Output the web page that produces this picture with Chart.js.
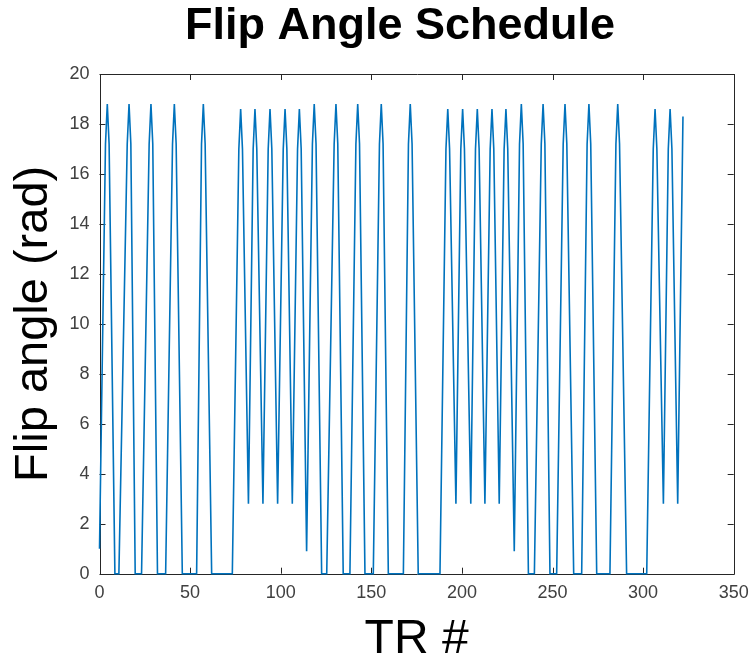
<!DOCTYPE html>
<html><head><meta charset="utf-8">
<script src="https://cdn.jsdelivr.net/npm/chart.js@4/dist/chart.umd.min.js"></script>
<style>html,body{margin:0;padding:0;background:#fff;}canvas{display:block}</style>
</head><body>
<canvas id="c" width="751" height="666"></canvas>
<script>
const chartTitle = 'Flip Angle Schedule';
const xTitle = 'TR #';
const yTitle = 'Flip angle (rad)';
const xTicks = [0, 50, 100, 150, 200, 250, 300, 350];
const yTicks = [0, 2, 4, 6, 8, 10, 12, 14, 16, 18, 20];

// Vertices of the flip-angle curve (TR index, radians)
const trIndex = [
  0, 3.3, 4.3, 5.3, 8.5, 10.7,
  15.3, 16.3, 17.3, 19.7, 23.2,
  27.4, 28.4, 29.4, 32.0, 36.5,
  40.3, 41.3, 42.3, 45.7, 53.6,
  56.3, 57.3, 58.3, 61.9, 73.3,
  76.9, 77.9, 78.9, 82.2,
  84.8, 85.8, 86.8, 90.2,
  93.1, 94.1, 95.1, 98.3,
  101.4, 102.4, 103.4, 106.4,
  109.3, 110.3, 111.3, 114.3,
  117.5, 118.5, 119.5, 122.6, 125.4,
  129.5, 130.5, 131.5, 134.5, 138.2,
  141.5, 142.5, 143.5, 146.5, 151.1,
  154.5, 155.5, 156.5, 159.4, 167.7,
  170.5, 171.5, 172.5, 175.9, 187.9,
  191.2, 192.2, 193.2, 196.7,
  199.4, 200.4, 201.4, 204.9,
  207.5, 208.5, 209.5, 212.7,
  215.6, 216.6, 217.6, 220.6,
  223.3, 224.3, 225.3, 228.9,
  231.8, 232.8, 233.8, 236.7, 240.0,
  243.8, 244.8, 245.8, 248.6, 252.3,
  255.9, 256.9, 257.9, 261.7, 266.1,
  269.1, 270.1, 271.1, 274.4, 281.7,
  285.0, 286.0, 287.0, 290.9, 302.0,
  305.6, 306.6, 307.6, 311.2,
  313.9, 314.9, 315.9, 319.1,
  322.0
];
const flipAngle = [
  1.0, 17.2, 18.8, 17.2, 0, 0,
  17.2, 18.8, 17.2, 0, 0,
  17.2, 18.8, 17.2, 0, 0,
  17.2, 18.8, 17.2, 0, 0,
  17.2, 18.8, 17.2, 0, 0,
  17.0, 18.6, 17.0, 2.8,
  17.0, 18.6, 17.0, 2.8,
  17.0, 18.6, 17.0, 2.8,
  17.0, 18.6, 17.0, 2.8,
  17.0, 18.6, 17.0, 0.9,
  17.2, 18.8, 17.2, 0, 0,
  17.2, 18.8, 17.2, 0, 0,
  17.2, 18.8, 17.2, 0, 0,
  17.2, 18.8, 17.2, 0, 0,
  17.2, 18.8, 17.2, 0, 0,
  17.0, 18.6, 17.0, 2.8,
  17.0, 18.6, 17.0, 2.8,
  17.0, 18.6, 17.0, 2.8,
  17.0, 18.6, 17.0, 2.8,
  17.0, 18.6, 17.0, 0.9,
  17.2, 18.8, 17.2, 0, 0,
  17.2, 18.8, 17.2, 0, 0,
  17.2, 18.8, 17.2, 0, 0,
  17.2, 18.8, 17.2, 0, 0,
  17.2, 18.8, 17.2, 0, 0,
  17.0, 18.6, 17.0, 2.8,
  17.0, 18.6, 17.0, 2.8,
  18.3
];

const points = trIndex.map((x, i) => ({x: x, y: flipAngle[i]}));
const axisColor = '#262626';
const tickColor = '#404040';

const boxPlugin = {
  id: 'boxTicks',
  beforeDatasetsDraw(chart) {
    const {ctx, chartArea: a, scales} = chart;
    ctx.save();
    ctx.strokeStyle = axisColor;
    ctx.lineWidth = 1;
    ctx.beginPath();
    ctx.rect(Math.round(a.left) + 0.5, Math.round(a.top) + 0.5,
             Math.round(a.right) - Math.round(a.left), Math.round(a.bottom) - Math.round(a.top));
    ctx.stroke();
    const len = 6;
    ctx.beginPath();
    scales.x.ticks.forEach(t => {
      const px = Math.round(scales.x.getPixelForValue(t.value)) + 0.5;
      ctx.moveTo(px, a.bottom); ctx.lineTo(px, a.bottom - len);
      ctx.moveTo(px, a.top); ctx.lineTo(px, a.top + len);
    });
    scales.y.ticks.forEach(t => {
      const py = Math.round(scales.y.getPixelForValue(t.value)) + 0.5;
      ctx.moveTo(a.left, py); ctx.lineTo(a.left + len, py);
      ctx.moveTo(a.right, py); ctx.lineTo(a.right - len, py);
    });
    ctx.stroke();
    ctx.restore();
  }
};

new Chart(document.getElementById('c'), {
  type: 'scatter',
  data: {
    datasets: [{
      data: points,
      showLine: true,
      borderColor: '#0072BD',
      backgroundColor: '#0072BD',
      borderWidth: 1.6,
      pointRadius: 0,
      tension: 0,
      clip: false
    }]
  },
  options: {
    responsive: false,
    animation: false,
    devicePixelRatio: 1,
    layout: {padding: {left: 66.3, right: 17.3, top: 0, bottom: 0}},
    plugins: {
      legend: {display: false},
      tooltip: {enabled: false},
      title: {
        display: true,
        text: chartTitle,
        color: '#000',
        font: {family: 'Liberation Sans', size: 45, weight: 'bold'},
        padding: {top: 0, bottom: 20}
      }
    },
    scales: {
      x: {
        type: 'linear', min: 0, max: 350,
        afterBuildTicks: s => { s.ticks = xTicks.map(v => ({value: v})); },
        afterFit: s => { s.height = 92.3; s.paddingLeft = 0; s.paddingRight = 0; },
        grid: {display: false, drawTicks: false},
        border: {display: false},
        ticks: {color: tickColor, font: {family: 'Liberation Sans', size: 18}, padding: 9, maxRotation: 0},
        title: {display: true, text: xTitle, color: '#000',
                font: {family: 'Liberation Sans', size: 48}, padding: {top: 0, bottom: -3}}
      },
      y: {
        type: 'linear', min: 0, max: 20,
        afterBuildTicks: s => { s.ticks = yTicks.map(v => ({value: v})); },
        afterFit: s => { s.width = 33.2; },
        grid: {display: false, drawTicks: false},
        border: {display: false},
        ticks: {color: tickColor, font: {family: 'Liberation Sans', size: 18}, padding: 10},
        title: {display: true, text: yTitle, color: '#000',
                font: {family: 'Liberation Sans', size: 47}, padding: {top: -60, bottom: 0}}
      }
    }
  },
  plugins: [boxPlugin]
});
</script>
</body></html>
